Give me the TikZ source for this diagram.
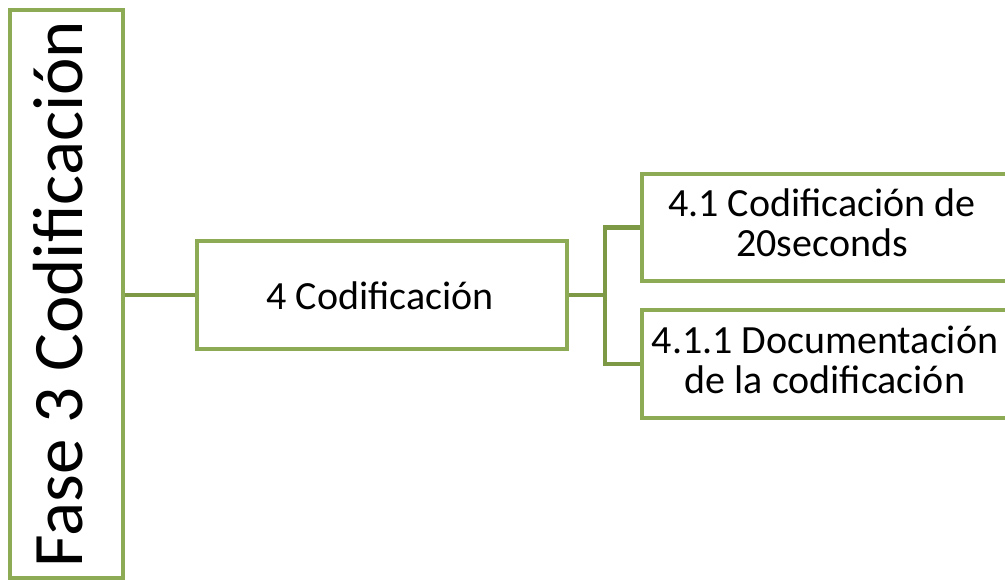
\documentclass[tikz,border=0pt]{standalone}
\usepackage{fontspec}
\setmainfont{Carlito}
\definecolor{boxgreen}{RGB}{141,170,84}
\definecolor{linkgreen}{RGB}{126,153,69}
\begin{document}
\begin{tikzpicture}[x=1pt,y=-1pt,
  box/.style={draw=boxgreen, line width=4.5pt, fill=white, rectangle, inner sep=0pt},
  link/.style={draw=linkgreen, line width=4.5pt},
  lbl/.style={inner sep=0pt, text=black, font=\fontsize{40}{40}\selectfont},
  bigl/.style={inner sep=0pt, text=black, font=\fontsize{71}{71}\selectfont}]
\useasboundingbox (0,0) rectangle (1005,580);
\clip (0,0) rectangle (1005,580);
% boxes
\node[box, minimum width=113pt, minimum height=568pt] (fase) at (66.5,294) {};
\node[box, minimum width=370pt, minimum height=108pt] (cod) at (382,295) {};
\node[box, minimum width=366pt, minimum height=107pt] (r1) at (825,227.5) {};
\node[box, minimum width=366pt, minimum height=108pt] (r2) at (825,364) {};
% connectors
\coordinate (j) at (605,295);
\draw[link] (fase.east |- cod.west) -- (cod.west);
\draw[link] (cod.east) -- (j);
\draw[link] (j) |- (r1.west);
\draw[link] (j) |- (r2.west);
% texts
\node[bigl, rotate=90, anchor=base] (tfase) at (82,294) {Fase 3 Codificación};
\node[lbl, anchor=base] (tcod) at (380,310) {4 Codificación};
\node[lbl, align=center] (tr1) at (822,229) {\strut 4.1 Codificación de\\\strut 20seconds};
\node[lbl, align=center] (tr2) at (825,365) {\strut 4.1.1 Documentación\\\strut de la codificación};
\end{tikzpicture}
\end{document}
